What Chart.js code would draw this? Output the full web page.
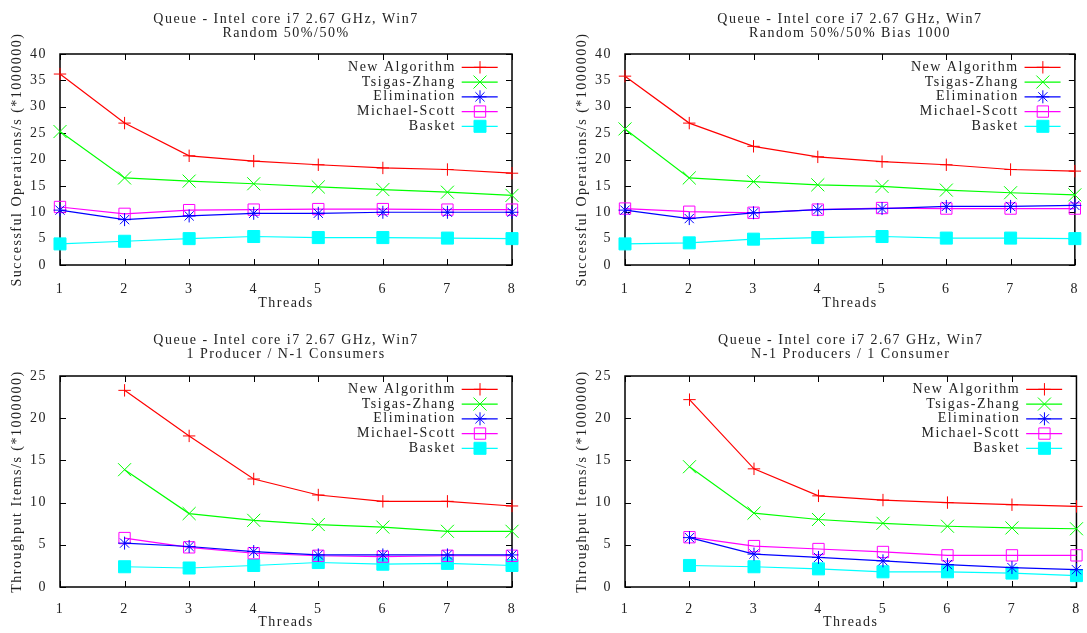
<!DOCTYPE html>
<html>
<head>
<meta charset="utf-8">
<title>Queue - Intel core i7 2.67 GHz, Win7</title>
<script src="https://cdn.jsdelivr.net/npm/chart.js"></script>
<style>
  body { margin: 0; background: #fff; }
  #wrap { position: relative; width: 1087px; height: 633px; overflow: hidden; }
  canvas { position: absolute; }
</style>
</head>
<body>
<div id="wrap">
  <canvas id="c1" width="545" height="316" style="left:0;top:0"></canvas>
  <canvas id="c2" width="522" height="316" style="left:565px;top:0"></canvas>
  <canvas id="c3" width="545" height="317" style="left:0;top:316px"></canvas>
  <canvas id="c4" width="522" height="317" style="left:565px;top:316px"></canvas>
</div>
<script>
// Threads on the x axis
const threads = ['1', '2', '3', '4', '5', '6', '7', '8'];
const seriesNames = ['New Algorithm', 'Tsigas-Zhang', 'Elimination', 'Michael-Scott', 'Basket'];

// Random 50%/50%
const randNew    = [36.2, 26.9, 20.7, 19.7, 19.0, 18.4, 18.1, 17.4];
const randTZ     = [25.3, 16.5, 15.9, 15.4, 14.8, 14.3, 13.8, 13.2];
const randElim   = [10.4, 8.6, 9.3, 9.8, 9.8, 10.0, 10.0, 10.0];
const randMS     = [11.0, 9.7, 10.4, 10.5, 10.6, 10.6, 10.5, 10.5];
const randBasket = [4.0, 4.5, 5.0, 5.4, 5.2, 5.2, 5.1, 5.0];

// Random 50%/50% Bias 1000
const biasNew    = [35.8, 26.9, 22.5, 20.5, 19.6, 19.0, 18.1, 17.8];
const biasTZ     = [25.8, 16.5, 15.8, 15.2, 14.9, 14.2, 13.7, 13.3];
const biasElim   = [10.4, 8.8, 9.9, 10.5, 10.7, 11.1, 11.1, 11.3];
const biasMS     = [10.7, 10.1, 9.9, 10.5, 10.8, 10.7, 10.7, 10.7];
const biasBasket = [4.0, 4.2, 4.9, 5.2, 5.4, 5.1, 5.1, 5.0];

// 1 Producer / N-1 Consumers
const oneProdNew    = [null, 23.3, 17.9, 12.8, 10.9, 10.15, 10.15, 9.6];
const oneProdTZ     = [null, 13.9, 8.7, 7.9, 7.4, 7.1, 6.6, 6.6];
const oneProdElim   = [null, 5.2, 4.8, 4.2, 3.8, 3.8, 3.8, 3.8];
const oneProdMS     = [null, 5.8, 4.7, 4.0, 3.7, 3.6, 3.7, 3.7];
const oneProdBasket = [null, 2.4, 2.25, 2.55, 2.9, 2.7, 2.8, 2.55];

// N-1 Producers / 1 Consumer
const oneConsNew    = [null, 22.2, 14.0, 10.8, 10.3, 10.0, 9.75, 9.55];
const oneConsTZ     = [null, 14.25, 8.75, 8.0, 7.55, 7.2, 7.0, 6.9];
const oneConsElim   = [null, 5.85, 3.9, 3.5, 3.1, 2.65, 2.3, 2.05];
const oneConsMS     = [null, 5.9, 4.85, 4.5, 4.15, 3.75, 3.75, 3.75];
const oneConsBasket = [null, 2.55, 2.4, 2.15, 1.8, 1.8, 1.65, 1.35];

const FONT = "'Liberation Serif', serif";
const TEXT = '#222';

// marker look of each series (gnuplot style points)
const looks = [
    { color: '#ff0000', style: 'cross',    r: 6.2, fill: 'rgba(0,0,0,0)' },
    { color: '#00ff00', style: 'crossRot', r: 9.2, fill: 'rgba(0,0,0,0)' },
    { color: '#0000ff', style: 'star',     r: 6.5, fill: 'rgba(0,0,0,0)' },
    { color: '#ff00ff', style: 'rect',     r: 8,   fill: 'rgba(0,0,0,0)' },
    { color: '#00ffff', style: 'rect',     r: 8.5, fill: '#00ffff' }
];

function drawMarker(ctx, look, x, y) {
    const r = look.r;
    ctx.beginPath();
    if (look.style === 'cross' || look.style === 'star') {
        ctx.moveTo(x - r, y); ctx.lineTo(x + r, y);
        ctx.moveTo(x, y - r); ctx.lineTo(x, y + r);
    }
    if (look.style === 'crossRot' || look.style === 'star') {
        const d = r * Math.SQRT1_2;
        ctx.moveTo(x - d, y - d); ctx.lineTo(x + d, y + d);
        ctx.moveTo(x + d, y - d); ctx.lineTo(x - d, y + d);
    }
    if (look.style === 'rect') {
        const s = r * Math.SQRT1_2;
        ctx.rect(x - s, y - s, 2 * s, 2 * s);
        ctx.fillStyle = look.fill;
        ctx.fill();
    }
    ctx.stroke();
}

// gnuplot-ish spaced text
const spacingPlugin = {
    id: 'spacing',
    beforeLayout(chart) { chart.ctx.letterSpacing = '1.5px'; },
    beforeDraw(chart) { chart.ctx.letterSpacing = '1.5px'; }
};

// border box with inward ticks on all four sides
const framePlugin = {
    id: 'frame',
    beforeDatasetsDraw(chart) {
        const { ctx, chartArea: a, scales: { x, y } } = chart;
        ctx.save();
        ctx.strokeStyle = '#000';
        ctx.lineWidth = 1;
        ctx.beginPath();
        x.ticks.forEach((t, i) => {
            const px = Math.round(x.getPixelForTick(i)) + 0.5;
            ctx.moveTo(px, a.bottom); ctx.lineTo(px, a.bottom - 6);
            ctx.moveTo(px, a.top); ctx.lineTo(px, a.top + 6);
        });
        y.ticks.forEach((t, i) => {
            const py = Math.round(y.getPixelForTick(i)) + 0.5;
            ctx.moveTo(a.left, py); ctx.lineTo(a.left + 6, py);
            ctx.moveTo(a.right, py); ctx.lineTo(a.right - 6, py);
        });
        ctx.stroke();
        ctx.lineWidth = 1.5;
        ctx.strokeRect(a.left, a.top, a.right - a.left, a.bottom - a.top);
        ctx.restore();
    }
};

// legend in the top right corner: text, then line sample with marker
const keyPlugin = {
    id: 'key',
    afterDatasetsDraw(chart) {
        const { ctx, chartArea: a } = chart;
        ctx.save();
        ctx.font = '14px ' + FONT;
        ctx.textAlign = 'right';
        ctx.textBaseline = 'middle';
        chart.data.datasets.forEach((ds, i) => {
            const yy = a.top + 13.3 + i * 14.75;
            const look = looks[i];
            ctx.fillStyle = TEXT;
            ctx.fillText(ds.label, a.right - 56.2, yy);
            ctx.strokeStyle = look.color;
            ctx.lineWidth = 1.2;
            ctx.beginPath();
            ctx.moveTo(a.right - 50.3, yy);
            ctx.lineTo(a.right - 14.3, yy);
            ctx.stroke();
            ctx.lineWidth = 1;
            drawMarker(ctx, look, a.right - 32, yy);
        });
        ctx.restore();
    }
};

function makePanel(id, titleLines, yTitle, yMax, values, topRow) {
    const canvas = document.getElementById(id);
    const w = canvas.width, h = canvas.height;
    const plotBottom = topRow ? 265 : 271;
    const axisFont = { family: FONT, size: 14, lineHeight: 1.2 };

    const datasets = values.map((vals, i) => ({
        label: seriesNames[i],
        data: vals,
        borderColor: looks[i].color,
        backgroundColor: looks[i].fill,
        borderWidth: 1.2,
        pointStyle: looks[i].style,
        pointRadius: looks[i].r,
        pointBorderWidth: 1,
        pointBorderColor: looks[i].color,
        pointBackgroundColor: looks[i].fill,
        tension: 0,
        spanGaps: false,
        clip: false
    }));

    return new Chart(canvas, {
        type: 'line',
        data: { labels: threads, datasets: datasets },
        options: {
            responsive: false,
            animation: false,
            events: [],
            layout: { padding: { left: 0, right: w - 512, top: 0, bottom: 0 } },
            plugins: {
                legend: { display: false },
                tooltip: { enabled: false },
                title: {
                    display: true,
                    fullSize: false,
                    text: titleLines,
                    color: TEXT,
                    font: { family: FONT, size: 14, weight: 'normal', lineHeight: '14.6px' },
                    padding: topRow ? { top: 11.6, bottom: 13.2 } : { top: 16.8, bottom: 14.0 }
                }
            },
            scales: {
                x: {
                    grid: { display: false },
                    border: { display: false },
                    offset: false,
                    ticks: { color: TEXT, font: axisFont, padding: topRow ? 7.9 : 6.3, maxRotation: 0, autoSkip: false },
                    title: {
                        display: true, text: 'Threads', color: TEXT, font: axisFont,
                        padding: { top: 0, bottom: topRow ? 4.6 : 1.9 }
                    },
                    afterFit(scale) { scale.height = h - plotBottom; }
                },
                y: {
                    min: 0,
                    max: yMax,
                    grid: { display: false },
                    border: { display: false },
                    ticks: { stepSize: 5, color: TEXT, font: axisFont, padding: 5 },
                    title: {
                        display: true, text: yTitle, color: TEXT, font: axisFont,
                        padding: { top: 8.8, bottom: 0 }
                    },
                    afterFit(scale) { scale.width = 60; }
                }
            }
        },
        plugins: [spacingPlugin, framePlugin, keyPlugin]
    });
}

const head = 'Queue - Intel core i7 2.67 GHz, Win7';
makePanel('c1', [head, 'Random 50%/50%'], 'Successful Operations/s (*1000000)', 40,
    [randNew, randTZ, randElim, randMS, randBasket], true);
makePanel('c2', [head, 'Random 50%/50% Bias 1000'], 'Successful Operations/s (*1000000)', 40,
    [biasNew, biasTZ, biasElim, biasMS, biasBasket], true);
makePanel('c3', [head, '1 Producer / N-1 Consumers'], 'Throughput Items/s (*1000000)', 25,
    [oneProdNew, oneProdTZ, oneProdElim, oneProdMS, oneProdBasket], false);
makePanel('c4', [head, 'N-1 Producers / 1 Consumer'], 'Throughput Items/s (*1000000)', 25,
    [oneConsNew, oneConsTZ, oneConsElim, oneConsMS, oneConsBasket], false);
</script>
</body>
</html>
